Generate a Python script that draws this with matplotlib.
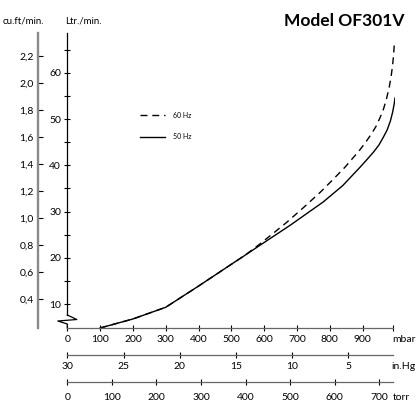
import matplotlib
matplotlib.use("Agg")
import matplotlib.pyplot as plt
from matplotlib.lines import Line2D

plt.rcParams['font.family'] = ['Lato', 'DejaVu Sans']

# flow curves (mbar, Ltr./min.)
mbar_50 = [100, 200, 300, 400, 500, 540, 600, 680, 780, 840, 893, 915, 935,
           950, 963, 975, 985, 992, 997, 999]
ltr_50 = [4.82, 6.77, 9.30, 13.88, 18.59, 20.46, 23.30, 27.06, 32.06, 35.63,
          39.62, 41.35, 42.98, 44.38, 46.00, 47.62, 49.57, 51.51, 53.46, 54.54]

mbar_60 = [100, 200, 300, 400, 500, 542, 585, 627, 670, 722, 772, 810, 847,
           868, 888, 908, 927, 941, 953, 964, 973, 981, 987, 991.5, 994.8, 996.9]
ltr_60 = [4.82, 6.77, 9.30, 13.88, 18.59, 20.56, 22.87, 25.25, 27.73, 30.98,
          34.22, 36.92, 39.62, 41.35, 42.98, 44.81, 46.76, 48.38, 50.22, 52.16,
          54.32, 56.70, 59.08, 61.46, 63.83, 66.21]

# axis ticks
mbar_ticks = [0, 100, 200, 300, 400, 500, 600, 700, 800, 900]
ltr_major = [10, 20, 30, 40, 50, 60]
ltr_minor = [15, 25, 35, 45, 55, 65]
cuft_ticks = [0.4, 0.6, 0.8, 1.0, 1.2, 1.4, 1.6, 1.8, 2.0, 2.2]
inhg_ticks = [30, 25, 20, 15, 10, 5]
torr_ticks = [0, 100, 200, 300, 400, 500, 600, 700]

y_low, y_high = 4.82, 68.6
x_end = 994
gray = '#666666'


def ltr_to_cuft(v):
    return 0.03422 * v + 0.0229


def cuft_to_ltr(v):
    return (v - 0.0229) / 0.03422


def inhg_to_mbar(v):
    return (30 - v) * 34.27


def torr_to_mbar(v):
    return v * 1.359


fig = plt.figure(figsize=(4.16, 4.05), dpi=100)
W, H = 416, 405
left, right, bottom, top = 67.3, 395.3, 328, 33
ax = fig.add_axes([left / W, 1 - bottom / H, (right - left) / W, (bottom - top) / H])
ax.set_xlim(0, 1000)
ax.set_ylim(y_low, y_high)

ax.plot(mbar_60, ltr_60, color='black', lw=1.0, ls=(0, (5, 3.5)), label='60 Hz')
ax.plot(mbar_50, ltr_50, color='black', lw=1.0, label='50 Hz')

for s in ['top', 'right']:
    ax.spines[s].set_visible(False)
ax.spines['bottom'].set_color(gray)
ax.spines['bottom'].set_linewidth(0.9)
ax.spines['bottom'].set_bounds(0, x_end)
ax.spines['left'].set_bounds(7.63, y_high)
ax.spines['left'].set_linewidth(0.9)

ax.set_xticks(mbar_ticks + [x_end])
ax.set_xticklabels([str(t) for t in mbar_ticks] + [''])
ax.tick_params(axis='x', direction='inout', length=4, width=0.8, color='black',
               labelsize=7.5, pad=3)
ax.set_yticks(ltr_major)
ax.set_yticks(ltr_minor, minor=True)
ax.tick_params(axis='y', which='both', direction='inout', length=5, width=0.8,
               labelsize=7.5, pad=2)

# axis break zigzag
px_x = 1000 / (right - left)
px_y = (y_high - y_low) / (bottom - top)
zx = [0, 9.5 * px_x, -9.5 * px_x, 0, 0]
zy = [y_low + 13 * px_y, y_low + 8.5 * px_y, y_low + 7 * px_y, y_low + 4 * px_y, y_low]
ax.plot(zx, zy, color='black', lw=0.9, clip_on=False)

# cu.ft/min. axis
sec = ax.secondary_yaxis((38 - left) / (right - left), functions=(ltr_to_cuft, cuft_to_ltr))
sec.set_yticks(cuft_ticks)
sec.set_yticklabels([f"{t:.1f}".replace('.', ',') for t in cuft_ticks])
sec.spines['left'].set_color('#8a8a8a')
sec.spines['left'].set_linewidth(1.7)
sec.tick_params(axis='y', direction='in', length=3.5, width=0.8, color='black',
                labelsize=7.5, pad=3)


def extra_axis(ypix, ticks, conv, pad):
    a = fig.add_axes([left / W, 1 - ypix / H, (right - left) / W, 0.0001])
    a.set_xlim(0, 1000)
    a.patch.set_visible(False)
    for s in ['top', 'right', 'left']:
        a.spines[s].set_visible(False)
    a.spines['bottom'].set_color(gray)
    a.spines['bottom'].set_linewidth(0.9)
    a.spines['bottom'].set_bounds(0, x_end)
    a.set_yticks([])
    a.set_xticks([conv(t) for t in ticks])
    a.set_xticklabels([str(t) for t in ticks])
    a.tick_params(axis='x', direction='inout', length=4, width=0.8, color='black',
                  labelsize=7.5, pad=pad)
    return a


extra_axis(355, inhg_ticks, inhg_to_mbar, 3)
extra_axis(381.7, torr_ticks, torr_to_mbar, 6)

# unit labels
fig.text(392 / W, 1 - 340 / H, 'mbar', fontsize=7.5, va='center', ha='left')
fig.text(391.5 / W, 1 - 366.7 / H, 'in.Hg', fontsize=7.5, va='center', ha='left')
fig.text(392.5 / W, 1 - 397 / H, 'torr', fontsize=7.5, va='center', ha='left')
fig.text(3 / W, 1 - 21 / H, 'cu.ft/min.', fontsize=7, va='center', ha='left')
fig.text(65 / W, 1 - 21 / H, 'Ltr./min.', fontsize=7, va='center', ha='left')
fig.text(405 / W, 1 - 21 / H, 'Model OF301V', fontsize=12.5, fontweight='bold',
         va='center', ha='right')

handles = [Line2D([], [], color='black', lw=1.0, ls=(0, (5, 3.5))),
           Line2D([], [], color='black', lw=1.0)]
ax.legend(handles, ['60 Hz', '50 Hz'], loc='center left', frameon=False,
          bbox_to_anchor=(140 / W, 1 - 126 / H), bbox_transform=fig.transFigure,
          fontsize=5, handlelength=3.6, handletextpad=1.1, labelspacing=2.1,
          borderpad=0, borderaxespad=0)

fig.savefig('out.png', dpi=100)
